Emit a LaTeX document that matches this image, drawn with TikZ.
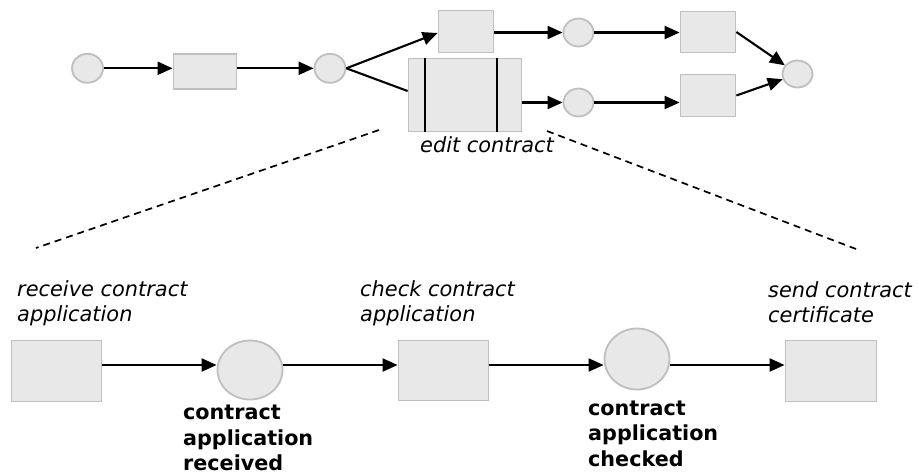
\documentclass[tikz,border=0pt]{standalone}
\usepackage{fontspec}
\setmainfont{DejaVu Sans}
\usetikzlibrary{arrows.meta,shapes.geometric}
\definecolor{shapefill}{HTML}{E8E8E8}
\definecolor{shapedraw}{HTML}{BFBFBF}
\begin{document}
\begin{tikzpicture}[x=1pt,y=-1pt,
  place/.style={ellipse, draw=shapedraw, fill=shapefill, line width=1.8pt, inner sep=0pt},
  trans/.style={rectangle, draw=shapedraw, fill=shapefill, line width=1.8pt, inner sep=0pt},
  arr/.style={line width=2.1pt, -{Triangle[length=15pt,width=13pt]}},
  plain/.style={line width=2.1pt},
  lbl/.style={inner sep=0pt, align=left, anchor=base west, font=\fontsize{20.9}{25}\selectfont\itshape},
  blbl/.style={inner sep=0pt, align=left, anchor=base west, font=\fontsize{20.7}{25.5}\selectfont\bfseries},
  zoomline/.style={line width=1.7pt, dash pattern=on 7pt off 5pt}
]
\useasboundingbox (0,0) rectangle (918,475);

% top net
\node[place, minimum width=31pt, minimum height=29pt] (c1) at (87.5,68.3) {};
\node[trans, minimum width=63pt, minimum height=35pt] (r1) at (205,71.3) {};
\node[place, minimum width=31pt, minimum height=29pt] (c2) at (330,68.3) {};
\node[trans, minimum width=55pt, minimum height=42pt] (ra) at (466,31.5) {};
\node[trans, minimum width=113pt, minimum height=73pt] (re) at (465,95) {};
\node[place, minimum width=30pt, minimum height=28pt] (ca) at (578.5,32.5) {};
\node[place, minimum width=30pt, minimum height=28pt] (cb) at (578.5,102.5) {};
\node[trans, minimum width=55pt, minimum height=41pt] (rb) at (708,32) {};
\node[trans, minimum width=55pt, minimum height=42pt] (rc) at (708,95.5) {};
\node[place, minimum width=30pt, minimum height=27pt] (ce) at (797.5,74) {};

\draw[plain] ([xshift=17pt]re.north west) -- ([xshift=17pt]re.south west);
\draw[plain] ([xshift=-25pt]re.north east) -- ([xshift=-25pt]re.south east);

\node[lbl] (edit) at (420,152) {edit contract};

\draw[arr] (c1.east) -- (c1.east -| r1.west);
\draw[arr] (r1.east |- c2.west) -- (c2.west);
\draw[arr] (c2.east) -- ([yshift=-1.5pt]ra.west);
\draw[plain] (c2.east) -- ([yshift=4pt]re.west);
\draw[arr] (ra.east |- ca.west) -- (ca.west);
\draw[arr] (re.east |- cb.west) -- (cb.west);
\draw[arr] (ca.east) -- (ca.east -| rb.west);
\draw[arr] (cb.east) -- (cb.east -| rc.west);
\draw[arr] (rb.east) -- (ce);
\draw[arr] (rc.east) -- (ce);

% zoom lines
\coordinate (d1a) at (379,130);
\coordinate (d1b) at (36,248);
\coordinate (d2a) at (547,131);
\coordinate (d2b) at (856,249);
\draw[zoomline] (d1a) -- (d1b);
\draw[zoomline] (d2a) -- (d2b);

% bottom net
\coordinate (ay) at (0,365);
\node[trans, minimum width=90pt, minimum height=61pt] (R1) at (56.5,371) {};
\node[place, minimum width=65pt, minimum height=59pt] (C1) at (250,370) {};
\node[trans, minimum width=90pt, minimum height=60pt] (R2) at (443.5,370.5) {};
\node[place, minimum width=65pt, minimum height=61pt] (C2) at (637,359) {};
\node[trans, minimum width=91pt, minimum height=61pt] (R3) at (831,371) {};

\draw[arr] (R1.east |- ay) -- (C1.west |- ay);
\draw[arr] (C1.east |- ay) -- (R2.west |- ay);
\draw[arr] (R2.east |- ay) -- (C2.west |- ay);
\draw[arr] (C2.east |- ay) -- (R3.west |- ay);

\node[lbl] (l1) at (17,321.5) {receive contract\\application};
\node[lbl] (l2) at (360,321.5) {check contract\\application};
\node[lbl] (l3) at (768,322.5) {send contract\\certificate};
\node[blbl] (l4) at (183,470.5) {contract\\application\\received};
\node[blbl] (l5) at (588,466) {contract\\application\\checked};
\end{tikzpicture}
\end{document}
